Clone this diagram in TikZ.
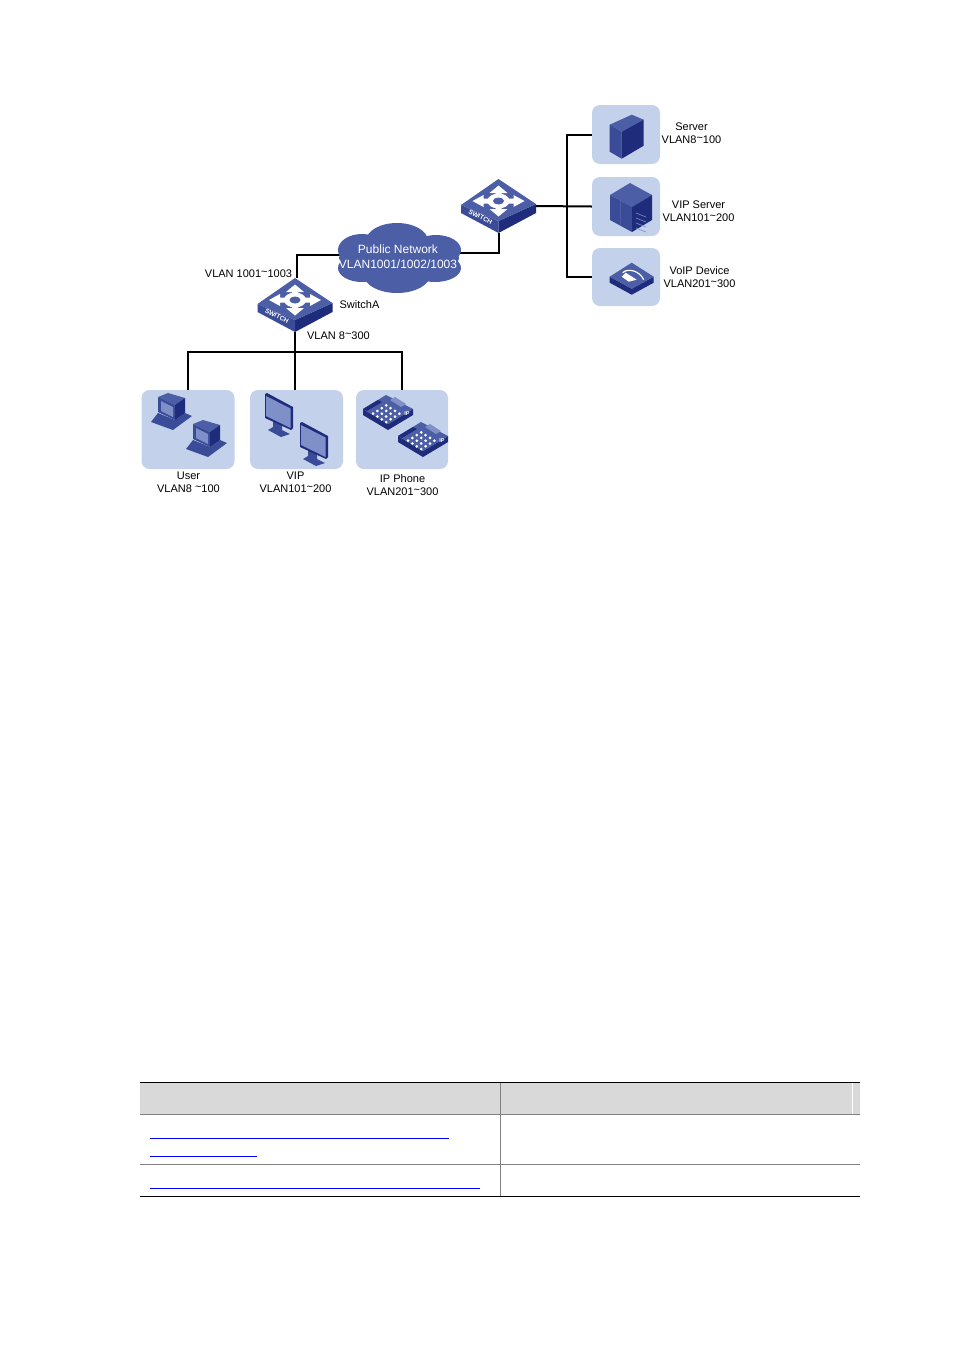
\documentclass[tikz,border=0pt]{standalone}
\usepackage{fontspec}
\setmainfont{Liberation Sans}
\usetikzlibrary{shapes,backgrounds,calc}
\definecolor{panelblue}{HTML}{C3D1EA}
\definecolor{topblue}{HTML}{4B5EA6}
\definecolor{leftblue}{HTML}{3A4B97}
\definecolor{darkblue}{HTML}{1F2C7C}
\definecolor{screenblue}{HTML}{7F8FC7}
\definecolor{linkblue}{HTML}{0000FF}
\definecolor{headgray}{HTML}{D9D9D9}
\definecolor{rulegray}{HTML}{808080}
\newcommand{\tld}{\raisebox{1.5pt}{\textasciitilde}}
\tikzset{
    panel/.style={rectangle,rounded corners=8pt,fill=panelblue,inner sep=0pt},
    lbl/.style={align=center,inner sep=0pt,font=\fontsize{11}{13}\selectfont},
    link/.style={line width=2pt,black},
    swicon/.pic={
        \fill[leftblue] (-37.5,4) -- (0,20) -- (0,32) -- (-37.5,12) -- cycle;
        \fill[darkblue] (37.5,3) -- (0,20) -- (0,32) -- (37.5,12) -- cycle;
        \fill[topblue] (0,-22) -- (37.5,3) -- (0,20) -- (-37.5,4) -- cycle;
        \fill[white] (0,0) ellipse (11 and 7.5);
        \foreach \s in {1,-1} {
            \fill[white] (0,-15.5*\s) -- (9,-8*\s) -- (3,-8*\s) -- (3,-4*\s) -- (-3,-4*\s) -- (-3,-8*\s) -- (-9,-8*\s) -- cycle;
            \fill[white] (-26*\s,0) -- (-15*\s,-6) -- (-15*\s,-2.5) -- (-7*\s,-2.5) -- (-7*\s,2.5) -- (-15*\s,2.5) -- (-15*\s,6) -- cycle;
        }
        \fill[topblue] (0,0) ellipse (5.5 and 3.5);
        \node[rotate=-27,text=white,inner sep=0pt,font=\fontsize{6.5}{7}\bfseries\selectfont] (-tag) at (-18,16) {SWITCH};
        \coordinate (-top) at (1.5,-22);
        \coordinate (-bottom) at (0,32);
        \coordinate (-right) at (37.5,6);
    },
    pcicon/.pic={
        \fill[leftblue] (-19,12) -- (3,20) -- (22,6) -- (15,3) -- (5,10) -- (-12,3) -- cycle;
        \fill[topblue] (-12,-13) -- (-2,-17) -- (15,-12) -- (5,-5) -- cycle;
        \fill[leftblue] (-12,-13) -- (5,-5) -- (5,10) -- (-12,2) -- cycle;
        \fill[darkblue] (5,-5) -- (15,-12) -- (15,3) -- (5,10) -- cycle;
        \fill[screenblue] (-9,-9) -- (3,-3) -- (3,7) -- (-9,1) -- cycle;
    },
    monicon/.pic={
        \fill[leftblue] (-5,8) -- (4,12) -- (4,17) -- (12,21) -- (3,24) -- (-10,17) -- (-5,14) -- cycle;
        \fill[darkblue] (-11,-20) -- (15,-6) -- (15,15) -- (13,17) -- (-13,5) -- (-13,-19) -- cycle;
        \fill[screenblue] (-12,-17) -- (12.5,-4.5) -- (12.5,15) -- (-12,3) -- cycle;
    },
    phoneicon/.pic={
        \fill[darkblue] (-25,-3) -- (0,12) -- (25,-3) -- (25,3) -- (0,18) -- (-25,3) -- cycle;
        \fill[topblue] (-25,-3) -- (-2,-17) -- (25,-3) -- (0,12) -- cycle;
        \fill[darkblue] (-25,-3) -- (-10,-12) -- (-6,-10) -- (-21,-1) -- cycle;
        \fill[screenblue] (2,-12) -- (7,-15) -- (18,-8) -- (13,-5) -- cycle;
        \foreach \i in {0,1,2,3} \foreach \j in {0,1,2,3}
            \fill[white] (-15+4.4*\i+4.4*\j,1.7-2.8*\i+2.8*\j) circle (1.5);
        \node[text=white,inner sep=0pt,font=\fontsize{5.5}{6}\bfseries\selectfont] (-ip) at (19,2) {IP};
    },
    srvicon/.pic={
        \fill[topblue] (-17,-12) -- (5,-22) -- (17,-17) -- (-5,-5) -- cycle;
        \fill[leftblue] (-17,-12) -- (-5,-5) -- (-5,22) -- (-17,15) -- cycle;
        \fill[darkblue] (-5,-5) -- (17,-17) -- (17,9) -- (-5,22) -- cycle;
    },
    rackicon/.pic={
        \fill[topblue] (-20,-10) -- (0,-22) -- (22,-10) -- (2,2) -- cycle;
        \fill[leftblue] (-20,-10) -- (2,2) -- (2,27) -- (-20,15) -- cycle;
        \fill[darkblue] (2,2) -- (22,-10) -- (22,15) -- (2,27) -- cycle;
        \draw[topblue,line width=0.6pt] (-10,-4) -- (-10,21);
        \foreach \k in {0,1,2,3}
            \draw[screenblue,line width=0.6pt] (6,8+5*\k) -- (16,12+5*\k);
    },
    voipicon/.pic={
        \fill[darkblue] (-22,0) -- (0,12) -- (22,0) -- (22,6) -- (0,18) -- (-22,6) -- cycle;
        \fill[topblue] (-22,0) -- (0,-14) -- (22,0) -- (0,12) -- cycle;
        \fill[white] (-10,0) -- (-6,-4) -- (5,3) -- (-3,5) -- cycle;
        \draw[white,line width=1.2pt] (-9,-4) .. controls (-4,-9) and (8,-6) .. (12,3);
    }
}
\begin{document}
\begin{tikzpicture}[x=1pt,y=-1pt]
            \useasboundingbox (0,0) rectangle (954,1350);
            \node[panel,minimum width=68pt,minimum height=59pt] (srv) at (626,134.5){};
            \node[panel,minimum width=68pt,minimum height=59pt] (vipsrv) at (626,206.5){};
            \node[panel,minimum width=68pt,minimum height=58pt] (voip) at (626,277){};
            \node[panel,minimum width=93pt,minimum height=79pt] (user) at (188,429.5){};
            \node[panel,minimum width=93pt,minimum height=79pt] (vip) at (296.5,429.5){};
            \node[panel,minimum width=92pt,minimum height=79pt] (phone) at (402,429.5){};
            \coordinate (netL) at (340,255);
            \coordinate (netR) at (459,253);
            \coordinate (trunkA) at (295,352);
            \coordinate (trunkB) at (567,206);
            \pic (swA) at (295,300) {swicon};
            \pic (swB) at (498.5,201) {swicon};
            \draw[link] (swA-top) |- (netL);
            \draw[link] (netR) -| (swB-bottom);
            \foreach \cx/\cy/\rx/\ry in {399/258/60/21,397/241/31/18,397/275/33/18,362/250/24/16,436/250/25/15,362/268/24/14,435/268/26/14}
                \fill[topblue] (\cx,\cy) ellipse (\rx pt and \ry pt);
            \node[lbl,text=white,font=\fontsize{12}{14.5}\selectfont] (netlabel) at (398,256.5) {Public Network\\VLAN1001/1002/1003};
            \draw[link] (swB-right |- trunkB) -- (vipsrv.west);
            \draw[link] (srv.west) -| (trunkB);
            \draw[link] (voip.west) -| (trunkB);
            \draw[link] (swA-bottom) -- (swA-bottom |- vip.north);
            \draw[link] (user.north) |- (trunkA) -| (phone.north);
            \pic at (170,410) {pcicon};
            \pic at (205,437) {pcicon};
            \pic at (278,413) {monicon};
            \pic at (313,442) {monicon};
            \pic at (388,412) {phoneicon};
            \pic at (423,439) {phoneicon};
            \pic at (626.7,136.7) {srvicon};
            \pic at (630,205) {rackicon};
            \pic at (631.7,276.7) {voipicon};
            \node[lbl] (srvlabel) at (691.5,133) {Server\\VLAN8\tld100};
            \node[lbl] (vipsrvlabel) at (698.5,211) {VIP Server\\VLAN101\tld200};
            \node[lbl] (voiplabel) at (699.5,277) {VoIP Device\\VLAN201\tld300};
            \node[lbl] (uplabel) at (248.5,273.5) {VLAN 1001\tld1003};
            \node[lbl] (swAlabel) at (359.5,304.5) {SwitchA};
            \node[lbl] (downlabel) at (338.5,335.5) {VLAN 8\tld300};
            \node[lbl] (userlabel) at (188.5,482) {User\\VLAN8 \tld100};
            \node[lbl] (viplabel) at (295.5,482) {VIP\\VLAN101\tld200};
            \node[lbl] (phonelabel) at (402.5,485) {IP Phone\\VLAN201\tld300};
            \fill[headgray] (140,1082) rectangle (860,1114);
            \draw[white,line width=0.6pt] (852,1083) -- (852,1114);
            \draw[rulegray,line width=1pt] (140,1114) -- (860,1114);
            \draw[rulegray,line width=1pt] (140,1164.5) -- (860,1164.5);
            \draw[rulegray,line width=1pt] (500.5,1082) -- (500.5,1196);
            \draw[black,line width=1pt] (140,1082) -- (860,1082);
            \draw[black,line width=1pt] (140,1196.5) -- (860,1196.5);
            \draw[linkblue,line width=1pt] (150,1138) -- (449,1138);
            \draw[linkblue,line width=1pt] (150,1156) -- (257,1156);
            \draw[linkblue,line width=1pt] (150,1188) -- (480,1188);
        \end{tikzpicture}
\end{document}
